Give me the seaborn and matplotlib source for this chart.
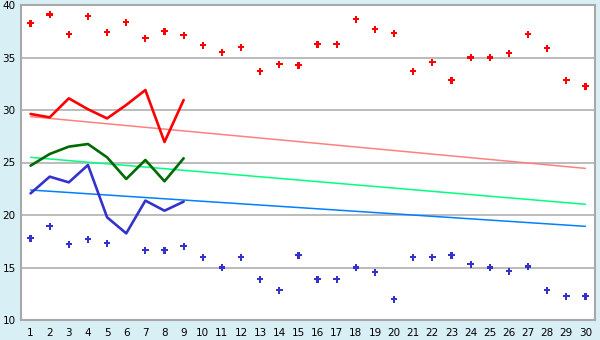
import numpy as np
import pandas as pd
import matplotlib
matplotlib.use("Agg")
import matplotlib.pyplot as plt
import seaborn as sns

days = list(range(1, 31))

# upper (red) daily markers
high_pts = [38.26, 39.1, 37.2, 38.92, 37.4, 38.35, 36.83, 37.49, 37.11, 36.16,
            35.49, 35.97, 33.68, 34.35, 34.25, 36.25, 36.25, 38.63, 37.68, 37.3,
            33.68, 34.54, 32.83, 35.0, 35.0, 35.4, 37.2, 35.87, 32.83, 32.25]
# lower (blue) daily markers (day 6 hidden under line)
low_pts = [17.78, 18.92, 17.2, 17.68, 17.3, np.nan, 16.64, 16.64, 17.02, 15.97,
           15.0, 15.97, 13.87, 12.83, 16.16, 13.87, 13.87, 15.0, 14.54, 11.97,
           15.97, 15.97, 16.16, 15.3, 15.0, 14.64, 15.1, 12.83, 12.26, 12.26]

# thick lines, days 1-9
line_days = list(range(1, 10))
red_line = [29.62, 29.3, 31.11, 30.07, 29.2, 30.48, 31.9, 26.95, 30.95]
green_line = [24.7, 25.81, 26.51, 26.76, 25.49, 23.43, 25.24, 23.21, 25.4]
blue_line = [22.06, 23.65, 23.11, 24.76, 19.78, 18.25, 21.37, 20.41, 21.27]

# thin trend lines (start day 1, end day 30)
trend_days = [1, 30]
red_trend = [29.37, 24.44]
green_trend = [25.49, 21.02]
blue_trend = [22.38, 18.92]

yticks = [10, 15, 20, 25, 30, 35, 40]

sns.set_style("white")
plt.rcParams['font.family'] = ['DejaVu Sans']

bg = "#D9EFF6"
fig = plt.figure(figsize=(6, 3.4), dpi=100, facecolor=bg)
ax = fig.add_axes([21 / 600, 20 / 340, 574 / 600, 315 / 340])
ax.set_facecolor("white")

for y in yticks[1:-1]:
    ax.axhline(y, color="#B0B0B0", lw=1.2, zorder=0)

tr = pd.DataFrame({"day": trend_days * 3,
                   "val": red_trend + green_trend + blue_trend,
                   "s": ["r"] * 2 + ["g"] * 2 + ["b"] * 2})
sns.lineplot(data=tr, x="day", y="val", hue="s",
             palette={"r": "#FF8080", "g": "#00FF80", "b": "#0080FF"},
             lw=1.1, legend=False, ax=ax, zorder=2)

ln = pd.DataFrame({"day": line_days * 3,
                   "val": red_line + green_line + blue_line,
                   "s": ["r"] * 9 + ["g"] * 9 + ["b"] * 9})
sns.lineplot(data=ln, x="day", y="val", hue="s",
             palette={"r": "#FF0000", "g": "#006A00", "b": "#3333CC"},
             lw=1.9, legend=False, ax=ax, zorder=3)

pts = pd.DataFrame({"day": days * 2, "val": high_pts + low_pts,
                    "s": ["h"] * 30 + ["l"] * 30}).dropna()
sns.scatterplot(data=pts, x="day", y="val", hue="s",
                palette={"h": "#FF0000", "l": "#3333CC"},
                marker="P", s=22, linewidth=0, legend=False, ax=ax, zorder=4)

ax.set_xlim(0.5, 30.5)
ax.set_ylim(10, 40)
ax.set_xticks(days)
ax.set_xticklabels([str(d) for d in days])
ax.set_yticks(yticks)
ax.set_xlabel("")
ax.set_ylabel("")
for sp in ax.spines.values():
    sp.set_color("#A8A8A8")
    sp.set_linewidth(1.5)
    sp.set_visible(True)
ax.tick_params(axis="both", direction="out", length=3, width=1,
               color="black", labelsize=7.5, labelcolor="black")
ax.tick_params(axis="y", pad=0.8)
ax.tick_params(axis="x", pad=3)

fig.savefig("out.png", dpi=100, facecolor=bg)
